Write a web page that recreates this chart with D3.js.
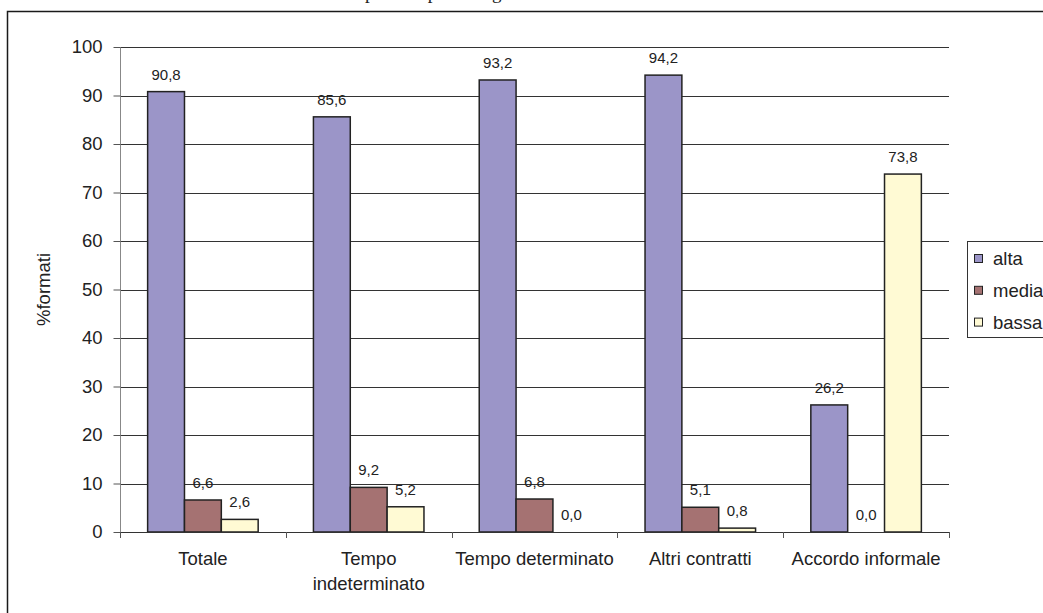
<!DOCTYPE html>
<html>
<head>
<meta charset="utf-8">
<script src="https://cdn.jsdelivr.net/npm/d3@7"></script>
<style>
  html, body { margin: 0; padding: 0; background: #fff; }
  svg { display: block; }
  text { font-family: "Liberation Sans", Arial, sans-serif; fill: #222; }
</style>
</head>
<body>
<svg id="chart" width="1043" height="613"></svg>
<script>
// Contract types on the x axis
const categories = ["Totale", "Tempo indeterminato", "Tempo determinato", "Altri contratti", "Accordo informale"];
// Skill level series (legend order)
const seriesNames = ["alta", "media", "bassa"];
// Percentages for each series, one value per contract type
const alta  = [90.8, 85.6, 93.2, 94.2, 26.2];
const media = [6.6, 9.2, 6.8, 5.1, 0.0];
const bassa = [2.6, 5.2, 0.0, 0.8, 73.8];
// Y axis ticks
const yTicks = [0, 10, 20, 30, 40, 50, 60, 70, 80, 90, 100];
const yTitle = "%formati";
const heading = "Competenze per tutti gli ambiti";

const seriesValues = { alta, media, bassa };
const colors = { alta: "#9b95c8", media: "#a57272", bassa: "#fffad4" };

const svg = d3.select("#chart");
const plotLeft = 120, plotRight = 949, plotTop = 47, plotBottom = 532;

const x0 = d3.scaleBand().domain(categories).range([plotLeft, plotRight]).paddingInner(0).paddingOuter(0);
const x1 = d3.scaleBand().domain(seriesNames).range([0, x0.bandwidth()]).paddingInner(0).paddingOuter(0.75);
const y = d3.scaleLinear().domain([0, 100]).range([plotBottom, plotTop]);

// clipped heading above the frame
svg.append("text")
  .attr("x", 328).attr("y", -1)
  .style("font-family", "'Liberation Serif', 'Times New Roman', serif")
  .style("font-size", "19px")
  .text(heading);

// outer frame
svg.append("rect")
  .attr("x", 7.5).attr("y", 11.5)
  .attr("width", 1100).attr("height", 700)
  .attr("fill", "none").attr("stroke", "#1a1a1a").attr("stroke-width", 1.5);

// horizontal gridlines
svg.append("g").selectAll("line")
  .data(yTicks.filter(d => d > 0))
  .join("line")
  .attr("x1", plotLeft).attr("x2", plotRight)
  .attr("y1", d => Math.round(y(d)) + 0.5).attr("y2", d => Math.round(y(d)) + 0.5)
  .attr("stroke", "#333").attr("stroke-width", 1);

// y axis
const yAxis = svg.append("g")
  .attr("transform", `translate(${plotLeft + 0.5},0)`)
  .call(d3.axisLeft(y).tickValues(yTicks).tickSize(7).tickPadding(11).tickFormat(d3.format("d")));
yAxis.select(".domain").attr("stroke", "#888").attr("d", `M0,${plotTop}V${plotBottom + 5}`);
yAxis.selectAll(".tick line").attr("stroke", "#555");
yAxis.selectAll(".tick text")
  .style("font-family", "'Liberation Sans', Arial, sans-serif")
  .style("font-size", "18.5px").attr("fill", "#222");

// y axis title
svg.append("text")
  .attr("transform", `translate(50,${(plotTop + plotBottom) / 2}) rotate(-90)`)
  .attr("text-anchor", "middle")
  .style("font-size", "18.5px")
  .text(yTitle);

// bars
const groups = svg.append("g").selectAll("g")
  .data(categories)
  .join("g")
  .attr("transform", d => `translate(${x0(d)},0)`);

const barData = (cat, i) => seriesNames.map(s => ({ s, v: seriesValues[s][i] }));

groups.selectAll("rect")
  .data((d, i) => barData(d, i).filter(b => b.v > 0))
  .join("rect")
  .attr("x", b => x1(b.s))
  .attr("y", b => y(b.v))
  .attr("width", x1.bandwidth())
  .attr("height", b => y(0) - y(b.v))
  .attr("fill", b => colors[b.s])
  .attr("stroke", "#222").attr("stroke-width", 1.5);

// value labels
const fmt = v => v.toFixed(1).replace(".", ",");
groups.selectAll("text.val")
  .data((d, i) => barData(d, i))
  .join("text")
  .attr("class", "val")
  .attr("x", b => x1(b.s) + x1.bandwidth() / 2)
  .attr("y", b => y(b.v) - 12)
  .attr("text-anchor", "middle")
  .style("font-size", "15px")
  .text(b => fmt(b.v));

// x axis line and category separators
svg.append("line")
  .attr("x1", plotLeft).attr("x2", plotRight + 1)
  .attr("y1", plotBottom + 0.5).attr("y2", plotBottom + 0.5)
  .attr("stroke", "#333").attr("stroke-width", 1.2);
const boundaries = categories.map(c => x0(c)).concat([plotRight]);
svg.append("g").selectAll("line")
  .data(boundaries)
  .join("line")
  .attr("x1", d => Math.round(d) + 0.5).attr("x2", d => Math.round(d) + 0.5)
  .attr("y1", plotBottom).attr("y2", plotBottom + 6)
  .attr("stroke", "#555");

// category labels, wrapped when wider than the band
const catLabels = svg.append("g").selectAll("text")
  .data(categories)
  .join("text")
  .attr("x", d => x0(d) + x0.bandwidth() / 2)
  .attr("y", 565)
  .attr("text-anchor", "middle")
  .style("font-size", "18.5px")
  .text(d => d);
catLabels.each(function (d) {
  const t = d3.select(this);
  if (this.getComputedTextLength() > x0.bandwidth()) {
    const words = d.split(" ");
    const cx = t.attr("x");
    t.text(null);
    words.forEach((w, i) => {
      t.append("tspan").attr("x", cx).attr("dy", i === 0 ? 0 : 25).text(w);
    });
  }
});

// legend
const legend = svg.append("g");
legend.append("rect")
  .attr("x", 967.5).attr("y", 241.5)
  .attr("width", 120).attr("height", 96)
  .attr("fill", "#fff").attr("stroke", "#333");
const items = legend.selectAll("g.item")
  .data(seriesNames)
  .join("g").attr("class", "item")
  .attr("transform", (d, i) => `translate(974,${258 + i * 31.8})`);
items.append("rect")
  .attr("x", 0.5).attr("y", -3.5).attr("width", 8).attr("height", 8)
  .attr("fill", d => colors[d]).attr("stroke", "#222");
items.append("text")
  .attr("x", 19).attr("y", 0.5)
  .attr("dominant-baseline", "central")
  .style("font-size", "18.5px")
  .text(d => d);
</script>
</body>
</html>
